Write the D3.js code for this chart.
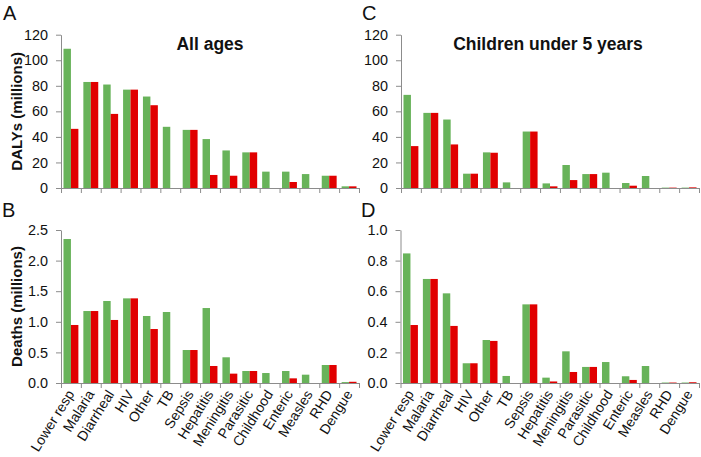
<!DOCTYPE html>
<html><head><meta charset="utf-8">
<script src="https://cdn.jsdelivr.net/npm/d3@7/dist/d3.min.js"></script>
<style>
body{margin:0;background:#fff}
svg{display:block}
text{font-family:"Liberation Sans",Arial,sans-serif;fill:#111}
</style>
</head><body>
<svg id="chart" width="701" height="457"></svg>
<script>
const categories = ["Lower resp","Malaria","Diarrheal","HIV","Other","TB","Sepsis","Hepatitis","Meningitis","Parasitic","Childhood","Enteric","Measles","RHD","Dengue"];
const seriesKeys = ["green","red"];

// A: DALYs, all ages
const dalysAllGreen = [109, 83, 81, 77, 71.6, 47.9, 45.5, 38.3, 29.4, 27.9, 12.8, 12.8, 10.9, 9.6, 1.3];
const dalysAllRed   = [46.3, 83, 58, 77, 64.8, 0, 45.5, 10.2, 9.6, 27.9, 0, 4.7, 0, 9.6, 1.3];
// C: DALYs, children under 5
const dalysU5Green  = [72.9, 58.8, 53.6, 11.2, 27.9, 4.4, 44.2, 3.6, 18, 10.9, 12, 3.9, 9.4, 0.3, 0.3];
const dalysU5Red    = [32.8, 58.8, 34.1, 11.2, 27.6, 0, 44.2, 1.3, 6.2, 10.9, 0, 1.8, 0, 0.3, 0.5];
// B: Deaths, all ages
const deathsAllGreen = [2.353, 1.176, 1.34, 1.383, 1.095, 1.16, 0.539, 1.225, 0.42, 0.196, 0.163, 0.196, 0.136, 0.294, 0.015];
const deathsAllRed   = [0.948, 1.176, 1.03, 1.383, 0.882, 0, 0.539, 0.278, 0.153, 0.196, 0, 0.076, 0, 0.294, 0.02];
// D: Deaths, children under 5
const deathsU5Green = [0.847, 0.68, 0.586, 0.129, 0.281, 0.046, 0.514, 0.035, 0.207, 0.105, 0.137, 0.044, 0.111, 0.003, 0.003];
const deathsU5Red   = [0.379, 0.68, 0.373, 0.129, 0.275, 0, 0.514, 0.01, 0.072, 0.105, 0, 0.02, 0, 0.003, 0.005];

const dalysTicks = [0, 20, 40, 60, 80, 100, 120];
const deathsAllTicks = [0, 0.5, 1.0, 1.5, 2.0, 2.5];
const deathsU5Ticks = [0, 0.2, 0.4, 0.6, 0.8, 1.0];

const colors = {green: "#68b35a", red: "#e10000"};
const axisColor = "#8c8c8c";

const panels = [
  {letter:"A", title:"All ages", yTitle:"DALYs (millions)", g:dalysAllGreen, r:dalysAllRed, ticks:dalysTicks, fmt:d3.format("d"),
   x0:61, x1:359, top:34.7, bottom:188, labels:false, lx:3, ly:20, tx:210},
  {letter:"C", title:"Children under 5 years", yTitle:null, g:dalysU5Green, r:dalysU5Red, ticks:dalysTicks, fmt:d3.format("d"),
   x0:401, x1:699, top:34.7, bottom:188, labels:false, lx:362, ly:20, tx:548},
  {letter:"B", title:null, yTitle:"Deaths (millions)", g:deathsAllGreen, r:deathsAllRed, ticks:deathsAllTicks, fmt:d3.format(".1f"),
   x0:61, x1:359, top:230, bottom:383, labels:true, lx:2, ly:216.5},
  {letter:"D", title:null, yTitle:null, g:deathsU5Green, r:deathsU5Red, ticks:deathsU5Ticks, fmt:d3.format(".1f"),
   x0:400.5, x1:699, top:230, bottom:383, labels:true, lx:361, ly:216.5}
];

const svg = d3.select("#chart");

panels.forEach(p => {
  const g = svg.append("g");
  const maxV = p.ticks[p.ticks.length - 1];
  const y = d3.scaleLinear().domain([0, maxV]).range([p.bottom, p.top]);
  const xb = d3.scaleBand().domain(categories).range([p.x0, p.x1]).paddingInner(0.25).paddingOuter(0.125);
  const xs = d3.scaleBand().domain(seriesKeys).range([0, xb.bandwidth()]);
  const xl = d3.scaleLinear().domain([0, categories.length]).range([p.x0, p.x1]);

  const rows = categories.map((c, i) => ({c, green: p.g[i], red: p.r[i]}));

  // bars
  seriesKeys.forEach(k => {
    g.append("g").selectAll("rect").data(rows).join("rect")
      .attr("x", d => xb(d.c) + xs(k))
      .attr("width", xs.bandwidth())
      .attr("y", d => y(d[k]))
      .attr("height", d => p.bottom - y(d[k]))
      .attr("fill", colors[k]);
  });

  // y axis
  const ya = g.append("g").attr("transform", `translate(${p.x0},0)`)
    .call(d3.axisLeft(y).tickValues(p.ticks).tickFormat(p.fmt).tickSize(5).tickSizeOuter(0).tickPadding(8));
  ya.selectAll("path,line").attr("stroke", axisColor);
  ya.selectAll("text").attr("font-size", 14.4).style("font-family", '"Liberation Sans",Arial,sans-serif').attr("fill", "#111");

  // x axis (ticks at category boundaries)
  const xa = g.append("g").attr("transform", `translate(0,${p.bottom})`)
    .call(d3.axisBottom(xl).tickValues(d3.range(categories.length + 1)).tickFormat("").tickSize(5).tickSizeOuter(0));
  xa.selectAll("path,line").attr("stroke", axisColor);

  if (p.labels) {
    g.append("g").selectAll("text").data(categories).join("text")
      .attr("transform", d => `translate(${xb(d) + xb.bandwidth() / 2 + 4},${p.bottom + 11}) rotate(-58)`)
      .attr("text-anchor", "end")
      .attr("font-size", 14)
      .text(d => d);
  }

  // panel letter
  g.append("text").attr("x", p.lx).attr("y", p.ly).attr("font-size", 20).text(p.letter);

  if (p.title) {
    g.append("text").attr("x", p.tx).attr("y", 50).attr("text-anchor", "middle")
      .attr("font-size", 17.5).attr("font-weight", "bold").text(p.title);
  }
  if (p.yTitle) {
    g.append("text").attr("transform", `translate(22,${(p.top + p.bottom) / 2}) rotate(-90)`)
      .attr("text-anchor", "middle").attr("font-size", 15).attr("font-weight", "bold").text(p.yTitle);
  }
});
</script>
</body></html>
